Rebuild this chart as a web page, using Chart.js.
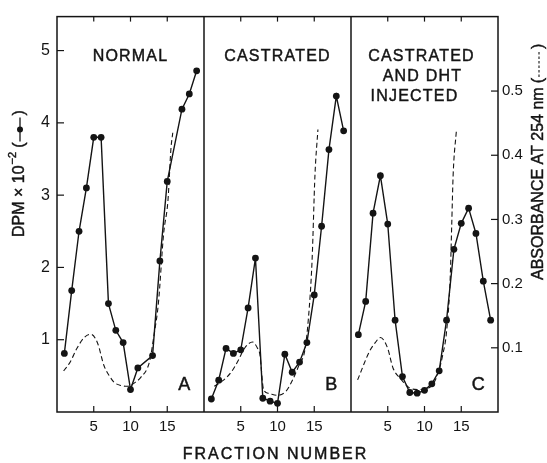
<!DOCTYPE html>
<html>
<head>
<meta charset="utf-8">
<script src="https://cdn.jsdelivr.net/npm/chart.js@4.4.1/dist/chart.umd.min.js"></script>
<style>
  html, body { margin: 0; background: #fff; }
</style>
</head>
<body>
<canvas id="chart" width="547" height="463"></canvas>
<script>
// DPM x 10^-2, solid line with dots (left axis)
const fracA = [1, 2, 3, 4, 5, 6, 7, 8, 9, 10, 11, 13, 14, 15, 17, 18, 19];
const dpmA = [0.81, 1.68, 2.50, 3.10, 3.80, 3.80, 1.50, 1.13, 0.96, 0.31, 0.61, 0.78, 2.09, 3.19, 4.19, 4.40, 4.72];
const fracB = [1, 2, 3, 4, 5, 6, 7, 8, 9, 10, 11, 12, 13, 14, 15, 16, 17, 18, 19];
const dpmB = [0.18, 0.44, 0.88, 0.81, 0.86, 1.44, 2.13, 0.19, 0.15, 0.12, 0.80, 0.55, 0.69, 0.96, 1.62, 2.57, 3.63, 4.37, 3.89];
const fracC = [1, 2, 3, 4, 5, 6, 7, 8, 9, 10, 11, 12, 13, 14, 15, 16, 17, 18, 19];
const dpmC = [1.07, 1.53, 2.75, 3.27, 2.60, 1.27, 0.49, 0.27, 0.26, 0.30, 0.39, 0.57, 1.27, 2.25, 2.61, 2.82, 2.47, 1.81, 1.27];

// absorbance at 254 nm, dashed (right axis)
const absFracA = [0.9, 1.8, 2.7, 3.7, 4.6, 5.5, 6.4, 7.2, 7.8, 8.8, 9.6, 10.5, 11.4, 12.6, 13.2, 13.8, 14.5, 15.1, 15.5, 15.75];
const absA = [0.064, 0.078, 0.099, 0.116, 0.121, 0.108, 0.072, 0.055, 0.046, 0.041, 0.040, 0.045, 0.054, 0.079, 0.12, 0.17, 0.277, 0.33, 0.41, 0.435];
const absFracB = [1.4, 2.7, 3.7, 4.6, 5.5, 6.6, 7.3, 7.6, 8.1, 8.8, 10.0, 11.2, 12.1, 13.0, 13.7, 14.2, 14.7, 15.1, 15.5];
const absB = [0.040, 0.050, 0.062, 0.079, 0.099, 0.109, 0.099, 0.09, 0.035, 0.029, 0.026, 0.033, 0.051, 0.075, 0.095, 0.145, 0.235, 0.37, 0.44];
const absFracC = [0.9, 2.5, 3.3, 4.0, 5.0, 5.7, 6.8, 7.9, 9.1, 10.7, 11.8, 12.5, 13.0, 13.5, 13.7, 13.9, 14.35];
const absC = [0.050, 0.094, 0.108, 0.116, 0.099, 0.069, 0.051, 0.038, 0.035, 0.038, 0.059, 0.09, 0.125, 0.21, 0.29, 0.37, 0.44];

const panelWidth = 20;
const fractionTicks = [5, 10, 15];
const dpmTicks = [1, 2, 3, 4, 5];
const absTicks = [0.1, 0.2, 0.3, 0.4, 0.5];
const panelNames = [['NORMAL'], ['CASTRATED'], ['CASTRATED', 'AND DHT', 'INJECTED']];
const panelLetters = ['A', 'B', 'C'];

const ink = '#141414';
const font = '"Liberation Sans", Arial, sans-serif';

const pts = (fr, vals, panel) => fr.map((f, i) => ({ x: f + panel * panelWidth, y: vals[i] }));

const solid = (fr, vals, panel) => ({
  data: pts(fr, vals, panel),
  yAxisID: 'y',
  borderColor: ink,
  backgroundColor: ink,
  borderWidth: 1.4,
  pointRadius: 3.4,
  pointBorderWidth: 0,
  tension: 0
});

const dashed = (fr, vals, panel) => ({
  data: pts(fr, vals, panel),
  yAxisID: 'y2',
  borderColor: ink,
  borderWidth: 1.1,
  borderDash: [5, 3],
  pointRadius: 0,
  cubicInterpolationMode: 'monotone'
});

const allXTicks = [0, 1, 2].flatMap(p => fractionTicks.map(t => t + p * panelWidth));

// draws text a little heavier, like the lettering of the original
const heavyText = (ctx, s, x, y) => {
  ctx.fillText(s, x, y);
  ctx.lineWidth = 0.45;
  ctx.strokeText(s, x, y);
};

const frame = {
  id: 'frame',
  afterDraw(chart) {
    const { ctx, chartArea: a, scales } = chart;
    const line = (x1, y1, x2, y2) => { ctx.beginPath(); ctx.moveTo(x1, y1); ctx.lineTo(x2, y2); ctx.stroke(); };
    ctx.save();
    ctx.strokeStyle = ink;
    ctx.lineWidth = 1.5;
    ctx.strokeRect(a.left, a.top, a.right - a.left, a.bottom - a.top);
    [1, 2].forEach(p => {
      const px = scales.x.getPixelForValue(p * panelWidth);
      line(px, a.top, px, a.bottom);
    });
    ctx.lineWidth = 1.2;
    allXTicks.forEach(v => {
      const px = scales.x.getPixelForValue(v);
      line(px, a.bottom, px, a.bottom - 6);
      line(px, a.top, px, a.top + 5);
    });
    dpmTicks.forEach(v => {
      const py = scales.y.getPixelForValue(v);
      line(a.left, py, a.left + 7, py);
    });
    absTicks.forEach(v => {
      const py = scales.y2.getPixelForValue(v);
      line(a.right, py, a.right - 7, py);
    });

    // panel captions
    ctx.fillStyle = ink;
    ctx.textAlign = 'center';
    ctx.textBaseline = 'middle';
    ctx.font = '16px ' + font;
    ctx.letterSpacing = '1.2px';
    panelNames.forEach((rows, p) => {
      const cx = scales.x.getPixelForValue(p * panelWidth + panelWidth / 2) + (p === 2 ? -3 : 0);
      rows.forEach((r, i) => heavyText(ctx, r, cx + (p === 2 && i === 2 ? -7 : 0) + (p === 2 && i === 1 ? 1 : 0), a.top + 40 + i * 20));
    });
    ctx.font = '18px ' + font;
    ctx.letterSpacing = '0px';
    panelLetters.forEach((l, p) => {
      const px = scales.x.getPixelForValue(p * panelWidth + 17.3);
      heavyText(ctx, l, px, scales.y.getPixelForValue(0.37));
    });

    // x title
    ctx.font = '16px ' + font;
    ctx.letterSpacing = '2px';
    heavyText(ctx, 'FRACTION NUMBER', (a.left + a.right) / 2 - 2, 455);
    ctx.letterSpacing = '0px';

    // left title, rotated
    ctx.save();
    ctx.translate(20, 153);
    ctx.rotate(-Math.PI / 2);
    ctx.textAlign = 'left';
    ctx.font = '16px ' + font;
    let x0 = -84;
    const t1 = 'DPM \u00d7 10';
    heavyText(ctx, t1, x0, 0);
    x0 += ctx.measureText(t1).width + 1;
    ctx.font = '11px ' + font;
    heavyText(ctx, '\u22122', x0, -7);
    x0 += ctx.measureText('\u22122').width + 4;
    ctx.font = '16px ' + font;
    heavyText(ctx, '(', x0, 0);
    x0 += ctx.measureText('(').width + 1;
    ctx.lineWidth = 1.3;
    line(x0, 0, x0 + 24, 0);
    ctx.beginPath(); ctx.arc(x0 + 12, 0, 3, 0, Math.PI * 2); ctx.fill();
    x0 += 26;
    heavyText(ctx, ')', x0, 0);
    ctx.restore();

    // right title, rotated
    ctx.save();
    ctx.translate(539, 168);
    ctx.rotate(-Math.PI / 2);
    ctx.textAlign = 'left';
    ctx.font = '16px ' + font;
    let r0 = -112;
    const t2 = 'ABSORBANCE AT 254 nm';
    heavyText(ctx, t2, r0, 0);
    r0 += ctx.measureText(t2).width + 4;
    heavyText(ctx, '(', r0, 0);
    r0 += ctx.measureText('(').width + 1;
    ctx.lineWidth = 1.1;
    ctx.setLineDash([2.5, 2]);
    line(r0, 0, r0 + 26, 0);
    ctx.setLineDash([]);
    r0 += 28;
    heavyText(ctx, ')', r0, 0);
    ctx.restore();

    ctx.restore();
  }
};

new Chart(document.getElementById('chart'), {
  type: 'line',
  data: {
    datasets: [
      solid(fracA, dpmA, 0),
      solid(fracB, dpmB, 1),
      solid(fracC, dpmC, 2),
      dashed(absFracA, absA, 0),
      dashed(absFracB, absB, 1),
      dashed(absFracC, absC, 2)
    ]
  },
  options: {
    responsive: false,
    animation: false,
    layout: { padding: { top: 8, left: 0, right: 0, bottom: 0 } },
    plugins: { legend: { display: false }, tooltip: { enabled: false } },
    scales: {
      x: {
        type: 'linear',
        min: 0,
        max: panelWidth * 3,
        grid: { display: false, drawTicks: false },
        border: { display: false },
        afterBuildTicks: s => { s.ticks = allXTicks.map(v => ({ value: v })); },
        afterFit: s => { s.height = 51; },
        ticks: {
          color: ink,
          font: { family: font, size: 15 },
          padding: 6,
          maxRotation: 0,
          callback: v => v % panelWidth
        }
      },
      y: {
        position: 'left',
        min: 0,
        max: 5.47,
        grid: { display: false, drawTicks: false },
        border: { display: false },
        afterBuildTicks: s => { s.ticks = dpmTicks.map(v => ({ value: v })); },
        afterFit: s => { s.width = 57; },
        ticks: { color: ink, font: { family: font, size: 16 }, padding: 7 }
      },
      y2: {
        position: 'right',
        min: 0,
        max: 0.616,
        grid: { display: false, drawTicks: false },
        border: { display: false },
        afterBuildTicks: s => { s.ticks = absTicks.map(v => ({ value: v })); },
        afterFit: s => { s.width = 49; },
        ticks: {
          color: ink,
          font: { family: font, size: 15 },
          padding: 4,
          callback: v => v.toFixed(1)
        }
      }
    }
  },
  plugins: [frame]
});
</script>
</body>
</html>
